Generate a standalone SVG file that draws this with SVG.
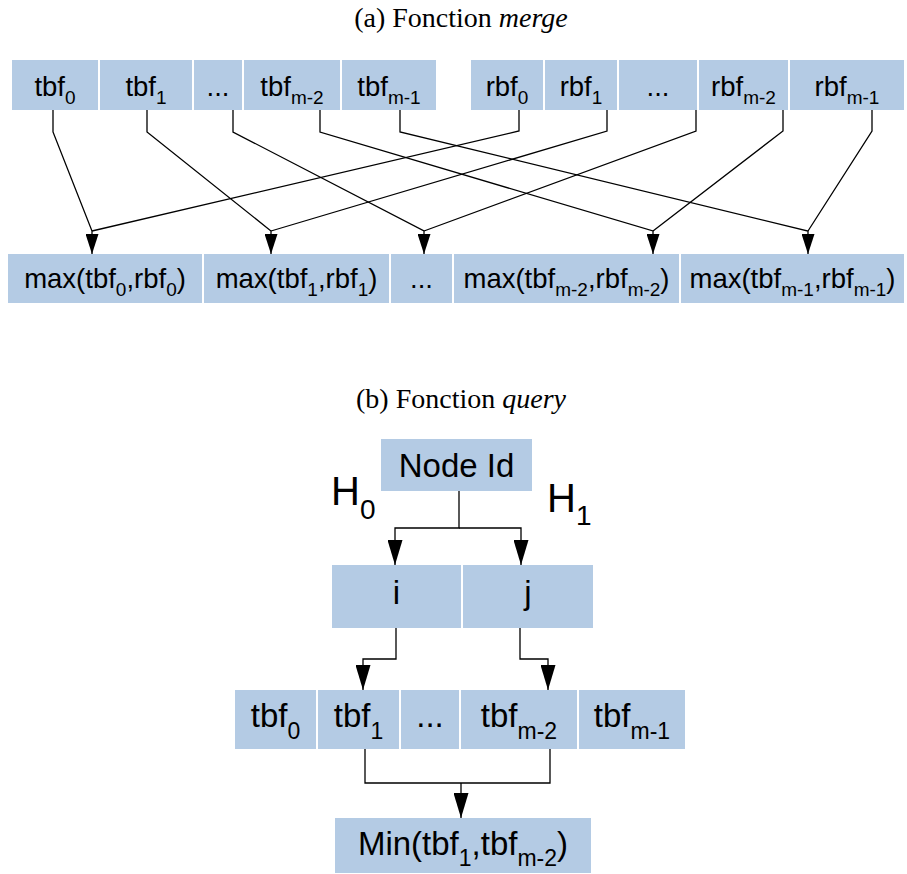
<svg xmlns="http://www.w3.org/2000/svg" width="907" height="874" viewBox="0 0 907 874">
<style>
.box{fill:#b4cbe4;}
.t{font-family:"Liberation Sans",Arial,sans-serif;fill:#000;text-anchor:middle;}
.a{font-size:27.5px;}
.b{font-size:33px;}
.sa{font-size:19px;}
.sb{font-size:23px;}
.title{font-family:"Liberation Serif","Times New Roman",serif;font-size:28px;text-anchor:middle;fill:#000;}
.c{fill:none;stroke:#000;stroke-width:1.3;}
</style>
<defs>
<marker id="arA" markerUnits="userSpaceOnUse" markerWidth="20" markerHeight="13" refX="20" refY="6.5" orient="auto" viewBox="0 0 20 13">
<path d="M0,0 L20,6.5 L0,13 z" fill="#000"/>
</marker>
<marker id="arB" markerUnits="userSpaceOnUse" markerWidth="25" markerHeight="15" refX="25" refY="7.5" orient="auto" viewBox="0 0 25 15">
<path d="M0,0 L25,7.5 L0,15 z" fill="#000"/>
</marker>
</defs>
<rect width="907" height="874" fill="#fff"/>

<text class="title" x="461" y="27">(a) Fonction <tspan font-style="italic">merge</tspan></text>
<text class="title" x="461" y="408">(b) Fonction <tspan font-style="italic">query</tspan></text>

<!-- Part (a) top row -->
<g id="a_tbf0"><rect class="box" x="12" y="60" width="86" height="50"/><text class="t a" x="55" y="96">tbf<tspan class="sa" dy="8">0</tspan></text></g>
<g id="a_tbf1"><rect class="box" x="100" y="60" width="92" height="50"/><text class="t a" x="146" y="96">tbf<tspan class="sa" dy="8">1</tspan></text></g>
<g id="a_tdots"><rect class="box" x="194" y="60" width="48" height="50"/><text class="t a" x="218" y="96">...</text></g>
<g id="a_tbfm2"><rect class="box" x="244" y="60" width="96" height="50"/><text class="t a" x="292" y="96">tbf<tspan class="sa" dy="8">m-2</tspan></text></g>
<g id="a_tbfm1"><rect class="box" x="342" y="60" width="94" height="50"/><text class="t a" x="389" y="96">tbf<tspan class="sa" dy="8">m-1</tspan></text></g>
<g id="a_rbf0"><rect class="box" x="471" y="60" width="72" height="50"/><text class="t a" x="507" y="96">rbf<tspan class="sa" dy="8">0</tspan></text></g>
<g id="a_rbf1"><rect class="box" x="545" y="60" width="72" height="50"/><text class="t a" x="581" y="96">rbf<tspan class="sa" dy="8">1</tspan></text></g>
<g id="a_rdots"><rect class="box" x="619" y="60" width="78" height="50"/><text class="t a" x="658" y="96">...</text></g>
<g id="a_rbfm2"><rect class="box" x="699" y="60" width="89" height="50"/><text class="t a" x="743.5" y="96">rbf<tspan class="sa" dy="8">m-2</tspan></text></g>
<g id="a_rbfm1"><rect class="box" x="790" y="60" width="114" height="50"/><text class="t a" x="847" y="96">rbf<tspan class="sa" dy="8">m-1</tspan></text></g>

<!-- Part (a) bottom row -->
<g id="a_max0"><rect class="box" x="8" y="254" width="194" height="49"/><text class="t a" x="105" y="288">max(tbf<tspan class="sa" dy="8">0</tspan><tspan dy="-8">,rbf</tspan><tspan class="sa" dy="8">0</tspan><tspan dy="-8">)</tspan></text></g>
<g id="a_max1"><rect class="box" x="204" y="254" width="185" height="49"/><text class="t a" x="296.5" y="288">max(tbf<tspan class="sa" dy="8">1</tspan><tspan dy="-8">,rbf</tspan><tspan class="sa" dy="8">1</tspan><tspan dy="-8">)</tspan></text></g>
<g id="a_maxdots"><rect class="box" x="391" y="254" width="61" height="49"/><text class="t a" x="421.5" y="288">...</text></g>
<g id="a_maxm2"><rect class="box" x="454" y="254" width="225" height="49"/><text class="t a" x="566.5" y="288">max(tbf<tspan class="sa" dy="8">m-2</tspan><tspan dy="-8">,rbf</tspan><tspan class="sa" dy="8">m-2</tspan><tspan dy="-8">)</tspan></text></g>
<g id="a_maxm1"><rect class="box" x="681" y="254" width="223" height="49"/><text class="t a" x="792.5" y="288">max(tbf<tspan class="sa" dy="8">m-1</tspan><tspan dy="-8">,rbf</tspan><tspan class="sa" dy="8">m-1</tspan><tspan dy="-8">)</tspan></text></g>

<!-- Part (b) nodes -->
<g id="b_node"><rect class="box" x="381" y="439" width="151" height="52"/><text class="t b" x="456.5" y="477">Node Id</text></g>
<g id="b_h0"><text class="t" style="font-size:40px;text-anchor:start" x="331" y="505">H<tspan style="font-size:28px" dy="14">0</tspan></text></g>
<g id="b_h1"><text class="t" style="font-size:40px;text-anchor:start" x="547" y="512">H<tspan style="font-size:28px" dy="13">1</tspan></text></g>
<g id="b_i"><rect class="box" x="332" y="565" width="129" height="63"/><text class="t b" x="396.5" y="604">i</text></g>
<g id="b_j"><rect class="box" x="463" y="565" width="130" height="63"/><text class="t b" x="528" y="604">j</text></g>
<g id="b_tbf0"><rect class="box" x="235" y="690" width="81" height="59"/><text class="t b" x="275.5" y="727">tbf<tspan class="sb" dy="12">0</tspan></text></g>
<g id="b_tbf1"><rect class="box" x="318" y="690" width="81" height="59"/><text class="t b" x="358.5" y="727">tbf<tspan class="sb" dy="12">1</tspan></text></g>
<g id="b_dots"><rect class="box" x="401" y="690" width="58" height="59"/><text class="t b" x="430" y="727">...</text></g>
<g id="b_tbfm2"><rect class="box" x="461" y="690" width="116" height="59"/><text class="t b" x="519" y="727">tbf<tspan class="sb" dy="12">m-2</tspan></text></g>
<g id="b_tbfm1"><rect class="box" x="579" y="690" width="106" height="59"/><text class="t b" x="632" y="727">tbf<tspan class="sb" dy="12">m-1</tspan></text></g>
<g id="b_min"><rect class="box" x="335" y="818" width="256" height="55"/><text class="t b" x="463" y="855">Min(tbf<tspan class="sb" dy="11">1</tspan><tspan dy="-11">,tbf</tspan><tspan class="sb" dy="11">m-2</tspan><tspan dy="-11">)</tspan></text></g>

<g id="connectors">
<path class="c" d="M53,110 V132 L92,231 V254" marker-end="url(#arA)"/>
<path class="c" d="M519,110 V131 L92,231"/>
<path class="c" d="M147,110 V132 L271,231 V254" marker-end="url(#arA)"/>
<path class="c" d="M607,110 V131 L271,231"/>
<path class="c" d="M233,110 V132 L424,231 V254" marker-end="url(#arA)"/>
<path class="c" d="M696,110 V131 L424,231"/>
<path class="c" d="M320,110 V132 L653,231 V254" marker-end="url(#arA)"/>
<path class="c" d="M783,110 V131 L653,231"/>
<path class="c" d="M400,110 V132 L808,231 V254" marker-end="url(#arA)"/>
<path class="c" d="M872,110 V131 L808,231"/>

<path class="c" d="M459,491 V528 H395 V565" marker-end="url(#arB)"/>
<path class="c" d="M459,528 H521 V565" marker-end="url(#arB)"/>
<path class="c" d="M396,628 V659 H363 V690" marker-end="url(#arB)"/>
<path class="c" d="M520,628 V659 H548 V690" marker-end="url(#arB)"/>
<path class="c" d="M365,749 V783 H550 V749"/>
<path class="c" d="M461,783 V818" marker-end="url(#arB)"/>
</g>
</svg>
